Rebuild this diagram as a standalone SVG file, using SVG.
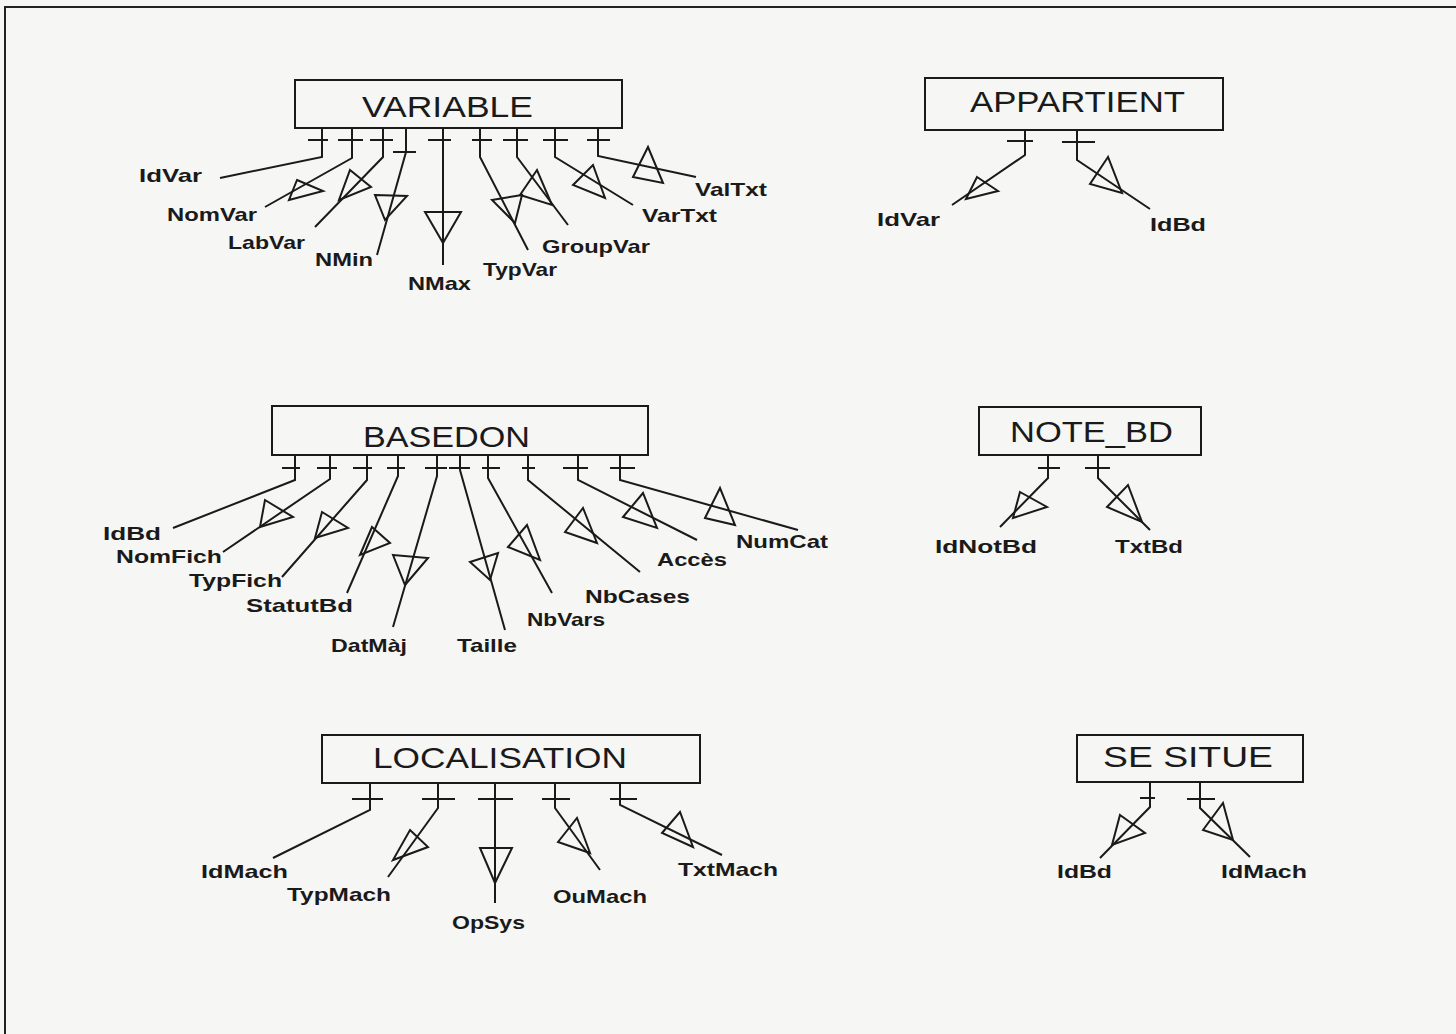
<svg xmlns="http://www.w3.org/2000/svg" width="1456" height="1034" viewBox="0 0 1456 1034">
<style>
.bg{fill:#f6f6f4}
.frame{fill:none;stroke:#222;stroke-width:2}
.box{fill:none;stroke:#1a1a1a;stroke-width:2}
.title{font-family:"Liberation Sans",Arial,sans-serif;font-size:29px;fill:#1a1a1a}
.lbl{font-family:"Liberation Sans",Arial,sans-serif;font-size:19px;font-weight:bold;fill:#1a1a1a}
.ln{fill:none;stroke:#1a1a1a;stroke-width:2;stroke-linejoin:miter}
.tri{fill:none;stroke:#1a1a1a;stroke-width:2;stroke-linejoin:miter}
</style>
<rect class="bg" x="0" y="0" width="1456" height="1034"/>
<path class="frame" d="M5,1034 V7 H1456"/>

<g id="variable">
<rect class="box" x="295" y="80" width="327" height="48"/>
<text class="title" x="362" y="117" textLength="171" lengthAdjust="spacingAndGlyphs">VARIABLE</text>
</g>
<g id="variable-attrs">
<text class="lbl" x="139" y="182" textLength="63" lengthAdjust="spacingAndGlyphs">IdVar</text>
<text class="lbl" x="167" y="221" textLength="90" lengthAdjust="spacingAndGlyphs">NomVar</text>
<text class="lbl" x="228" y="249" textLength="77" lengthAdjust="spacingAndGlyphs">LabVar</text>
<text class="lbl" x="315" y="266" textLength="58" lengthAdjust="spacingAndGlyphs">NMin</text>
<text class="lbl" x="408" y="290" textLength="63" lengthAdjust="spacingAndGlyphs">NMax</text>
<text class="lbl" x="483" y="276" textLength="74" lengthAdjust="spacingAndGlyphs">TypVar</text>
<text class="lbl" x="542" y="253" textLength="108" lengthAdjust="spacingAndGlyphs">GroupVar</text>
<text class="lbl" x="642" y="222" textLength="75" lengthAdjust="spacingAndGlyphs">VarTxt</text>
<text class="lbl" x="695" y="196" textLength="72" lengthAdjust="spacingAndGlyphs">ValTxt</text>
</g>

<g id="appartient">
<rect class="box" x="925" y="78" width="298" height="52"/>
<text class="title" x="970" y="112" textLength="215" lengthAdjust="spacingAndGlyphs">APPARTIENT</text>
</g>
<g id="appartient-attrs">
<text class="lbl" x="877" y="226" textLength="63" lengthAdjust="spacingAndGlyphs">IdVar</text>
<text class="lbl" x="1150" y="231" textLength="56" lengthAdjust="spacingAndGlyphs">IdBd</text>
</g>

<g id="basedon">
<rect class="box" x="272" y="406" width="376" height="49"/>
<text class="title" x="363" y="447" textLength="167" lengthAdjust="spacingAndGlyphs">BASEDON</text>
</g>
<g id="basedon-attrs">
<text class="lbl" x="103" y="540" textLength="58" lengthAdjust="spacingAndGlyphs">IdBd</text>
<text class="lbl" x="116" y="563" textLength="106" lengthAdjust="spacingAndGlyphs">NomFich</text>
<text class="lbl" x="189" y="587" textLength="93" lengthAdjust="spacingAndGlyphs">TypFich</text>
<text class="lbl" x="246" y="612" textLength="107" lengthAdjust="spacingAndGlyphs">StatutBd</text>
<text class="lbl" x="331" y="652" textLength="76" lengthAdjust="spacingAndGlyphs">DatMàj</text>
<text class="lbl" x="457" y="652" textLength="60" lengthAdjust="spacingAndGlyphs">Taille</text>
<text class="lbl" x="527" y="626" textLength="78" lengthAdjust="spacingAndGlyphs">NbVars</text>
<text class="lbl" x="585" y="603" textLength="105" lengthAdjust="spacingAndGlyphs">NbCases</text>
<text class="lbl" x="657" y="566" textLength="70" lengthAdjust="spacingAndGlyphs">Accès</text>
<text class="lbl" x="736" y="548" textLength="92" lengthAdjust="spacingAndGlyphs">NumCat</text>
</g>

<g id="note_bd">
<rect class="box" x="979" y="407" width="222" height="48"/>
<text class="title" x="1010" y="442" textLength="163" lengthAdjust="spacingAndGlyphs">NOTE_BD</text>
</g>
<g id="note_bd-attrs">
<text class="lbl" x="935" y="553" textLength="102" lengthAdjust="spacingAndGlyphs">IdNotBd</text>
<text class="lbl" x="1115" y="553" textLength="68" lengthAdjust="spacingAndGlyphs">TxtBd</text>
</g>

<g id="localisation">
<rect class="box" x="322" y="735" width="378" height="48"/>
<text class="title" x="373" y="768" textLength="254" lengthAdjust="spacingAndGlyphs">LOCALISATION</text>
</g>
<g id="localisation-attrs">
<text class="lbl" x="201" y="878" textLength="87" lengthAdjust="spacingAndGlyphs">IdMach</text>
<text class="lbl" x="287" y="901" textLength="104" lengthAdjust="spacingAndGlyphs">TypMach</text>
<text class="lbl" x="452" y="929" textLength="73" lengthAdjust="spacingAndGlyphs">OpSys</text>
<text class="lbl" x="553" y="903" textLength="94" lengthAdjust="spacingAndGlyphs">OuMach</text>
<text class="lbl" x="678" y="876" textLength="100" lengthAdjust="spacingAndGlyphs">TxtMach</text>
</g>

<g id="se_situe">
<rect class="box" x="1077" y="735" width="226" height="47"/>
<text class="title" x="1103" y="767" textLength="170" lengthAdjust="spacingAndGlyphs">SE SITUE</text>
</g>
<g id="se_situe-attrs">
<text class="lbl" x="1057" y="878" textLength="55" lengthAdjust="spacingAndGlyphs">IdBd</text>
<text class="lbl" x="1221" y="878" textLength="86" lengthAdjust="spacingAndGlyphs">IdMach</text>
</g>

<g id="connectors">
<!-- VARIABLE -->
<path class="ln" d="M322,128 V157 L220,178 M308,140 H328"/>
<path class="ln" d="M352,128 V158 L265,207 M338,140 H363"/>
<polygon class="tri" points="297,180 323,191 289,200"/>
<path class="ln" d="M383,128 V157 L315,227 M370,140 H393"/>
<polygon class="tri" points="350,170 371,187 339,200"/>
<path class="ln" d="M406,128 V152 L377,255 M393,152 H416"/>
<polygon class="tri" points="375,195 407,196 385,220"/>
<path class="ln" d="M443,128 V265 M428,140 H451"/>
<polygon class="tri" points="425,212 461,212 443,243"/>
<path class="ln" d="M480,128 V157 L528,250 M472,140 H492"/>
<polygon class="tri" points="492,200 522,195 515,223"/>
<path class="ln" d="M517,128 V157 L568,225 M503,140 H528"/>
<polygon class="tri" points="520,195 537,170 552,205"/>
<path class="ln" d="M555,128 V157 L633,205 M543,140 H568"/>
<polygon class="tri" points="573,185 593,165 605,198"/>
<path class="ln" d="M598,128 V156 L696,177 M587,140 H610"/>
<polygon class="tri" points="633,177 648,147 663,183"/>
<!-- APPARTIENT -->
<path class="ln" d="M1025,130 V155 L952,205 M1007,141 H1033"/>
<polygon class="tri" points="977,177 998,191 966,199"/>
<path class="ln" d="M1077,130 V160 L1150,209 M1062,142 H1095"/>
<polygon class="tri" points="1108,157 1090,184 1122,193"/>
<!-- BASEDON -->
<path class="ln" d="M295,455 V480 L173,528 M282,468 H300"/>
<path class="ln" d="M330,455 V479 L223,552 M317,468 H337"/>
<polygon class="tri" points="265,500 293,517 260,527"/>
<path class="ln" d="M367,455 V480 L282,577 M353,468 H372"/>
<polygon class="tri" points="322,512 348,528 315,538"/>
<path class="ln" d="M398,455 V476 L347,593 M387,468 H405"/>
<polygon class="tri" points="372,527 390,543 360,555"/>
<path class="ln" d="M437,455 V476 L393,627 M425,468 H447"/>
<polygon class="tri" points="393,555 428,558 405,585"/>
<path class="ln" d="M460,455 V470 L505,630 M449,468 H470"/>
<polygon class="tri" points="470,562 498,553 490,580"/>
<path class="ln" d="M488,455 V478 L552,593 M482,468 H500"/>
<polygon class="tri" points="508,547 527,525 540,560"/>
<path class="ln" d="M528,455 V480 L640,572 M522,468 H535"/>
<polygon class="tri" points="565,532 583,508 597,543"/>
<path class="ln" d="M578,455 V480 L697,540 M563,468 H588"/>
<polygon class="tri" points="623,517 643,493 657,528"/>
<path class="ln" d="M620,455 V480 L798,530 M610,468 H635"/>
<polygon class="tri" points="705,518 720,488 735,525"/>
<!-- NOTE_BD -->
<path class="ln" d="M1048,455 V478 L1000,527 M1038,468 H1060"/>
<polygon class="tri" points="1020,492 1047,507 1013,518"/>
<path class="ln" d="M1098,455 V478 L1150,530 M1085,468 H1110"/>
<polygon class="tri" points="1107,507 1128,485 1142,522"/>
<!-- LOCALISATION -->
<path class="ln" d="M370,783 V810 L273,858 M352,799 H383"/>
<path class="ln" d="M438,783 V808 L388,877 M422,799 H455"/>
<polygon class="tri" points="410,830 428,847 393,860"/>
<path class="ln" d="M495,783 V903 M478,799 H513"/>
<polygon class="tri" points="480,848 512,848 495,883"/>
<path class="ln" d="M555,783 V808 L600,870 M542,799 H570"/>
<polygon class="tri" points="558,842 577,818 590,853"/>
<path class="ln" d="M620,783 V805 L722,855 M610,799 H637"/>
<polygon class="tri" points="662,833 680,812 693,847"/>
<!-- SE SITUE -->
<path class="ln" d="M1150,782 V807 L1100,858 M1140,798 H1155"/>
<polygon class="tri" points="1120,815 1145,833 1112,845"/>
<path class="ln" d="M1200,782 V808 L1250,857 M1187,799 H1215"/>
<polygon class="tri" points="1203,830 1223,803 1233,840"/>
</g>
</svg>
